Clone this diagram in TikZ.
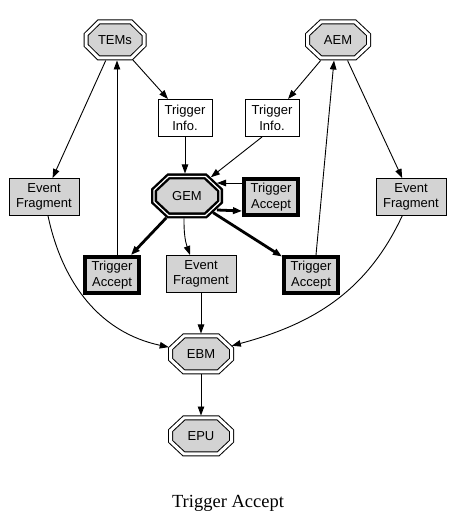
\documentclass[tikz,border=0pt]{standalone}
\usepackage{fontspec}
\setmainfont{Liberation Serif}
\newfontfamily\gvfont{Liberation Sans}
\usetikzlibrary{arrows.meta}
\definecolor{gvgray}{RGB}{211,211,211}
% octagon as drawn by graphviz: top edge 0.56 of width, side edge 0.3 of height
\makeatletter
\pgfdeclareshape{gvoctagon}{
  \inheritsavedanchors[from=rectangle]
  \inheritanchor[from=rectangle]{center}
  \inheritanchor[from=rectangle]{north}
  \inheritanchor[from=rectangle]{south}
  \inheritanchor[from=rectangle]{east}
  \inheritanchor[from=rectangle]{west}
  \anchorborder{%
    \edef\gvdx{\the\pgf@x}\edef\gvdy{\the\pgf@y}%
    \northeast \edef\gvnex{\the\pgf@x}\edef\gvney{\the\pgf@y}%
    \southwest \edef\gvswx{\the\pgf@x}\edef\gvswy{\the\pgf@y}%
    \pgfmathsetmacro\gva{((\gvnex)-(\gvswx))/2}%
    \pgfmathsetmacro\gvb{((\gvney)-(\gvswy))/2}%
    \pgfmathsetmacro\gvcx{((\gvnex)+(\gvswx))/2}%
    \pgfmathsetmacro\gvcy{((\gvney)+(\gvswy))/2}%
    \pgfmathsetmacro\gvp{0.56*\gva}%
    \pgfmathsetmacro\gvq{0.3*\gvb}%
    \pgfmathsetmacro\gvux{abs(\gvdx)+0.01}%
    \pgfmathsetmacro\gvuy{abs(\gvdy)+0.01}%
    \pgfmathsetmacro\gvt{min(\gva/\gvux,\gvb/\gvuy,((\gvb-\gvq)*\gvp+(\gva-\gvp)*\gvb)/((\gvb-\gvq)*\gvux+(\gva-\gvp)*\gvuy))}%
    \pgfpoint{\gvcx pt+\gvt*(\gvdx)}{\gvcy pt+\gvt*(\gvdy)}%
  }
  \backgroundpath{%
    \pgfmathsetlength\pgf@xc{\pgfkeysvalueof{/pgf/outer xsep}}%
    \pgfmathsetlength\pgf@yc{\pgfkeysvalueof{/pgf/outer ysep}}%
    \southwest \advance\pgf@x by \pgf@xc \advance\pgf@y by \pgf@yc
    \edef\gvxa{\the\pgf@x}\edef\gvya{\the\pgf@y}%
    \northeast \advance\pgf@x by -\pgf@xc \advance\pgf@y by -\pgf@yc
    \edef\gvxb{\the\pgf@x}\edef\gvyb{\the\pgf@y}%
    \pgfmathsetmacro\gvxl{0.5*(\gvxa)+0.5*(\gvxb)-0.28*((\gvxb)-(\gvxa))}%
    \pgfmathsetmacro\gvxr{0.5*(\gvxa)+0.5*(\gvxb)+0.28*((\gvxb)-(\gvxa))}%
    \pgfmathsetmacro\gvyl{0.5*(\gvya)+0.5*(\gvyb)-0.15*((\gvyb)-(\gvya))}%
    \pgfmathsetmacro\gvyu{0.5*(\gvya)+0.5*(\gvyb)+0.15*((\gvyb)-(\gvya))}%
    \pgfpathmoveto{\pgfpoint{\gvxl pt}{\gvyb}}%
    \pgfpathlineto{\pgfpoint{\gvxr pt}{\gvyb}}%
    \pgfpathlineto{\pgfpoint{\gvxb}{\gvyu pt}}%
    \pgfpathlineto{\pgfpoint{\gvxb}{\gvyl pt}}%
    \pgfpathlineto{\pgfpoint{\gvxr pt}{\gvya}}%
    \pgfpathlineto{\pgfpoint{\gvxl pt}{\gvya}}%
    \pgfpathlineto{\pgfpoint{\gvxa}{\gvyl pt}}%
    \pgfpathlineto{\pgfpoint{\gvxa}{\gvyu pt}}%
    \pgfpathclose
  }
}
\makeatother
\tikzset{
  gvtext/.style={font=\gvfont\fontsize{13}{15.5}\selectfont, align=center, inner sep=0pt},
  octo/.style={gvtext, gvoctagon, minimum width=61pt, minimum height=36pt,
    fill=gvgray, draw, line width=1pt, double=white, double distance=3pt,
    outer sep=2.5pt},
  boldocto/.style={octo, minimum width=66pt, minimum height=39pt,
    line width=2.4pt, double distance=1.2pt, outer sep=3pt},
  infobox/.style={gvtext, draw, line width=1pt, fill=white,
    minimum width=54pt, minimum height=37pt},
  fragbox/.style={infobox, fill=gvgray, minimum width=70pt},
  acceptbox/.style={gvtext, draw, line width=4pt, fill=gvgray,
    minimum width=54pt, minimum height=36pt},
  edge/.style={-{Triangle[length=9pt,width=6.5pt]}, line width=0.9pt},
  boldedge/.style={edge, line width=2.8pt}
}
\begin{document}
\begin{tikzpicture}[x=1pt, y=1pt]
  \useasboundingbox (0,0) rectangle (452,525);
  % sources
  \node[octo, minimum width=58pt] (tems) at (115,485) {TEMs};
  \node[octo] (aem) at (338,485) {AEM};
  \node[infobox] (tinfoL) at (185,407) {Trigger\\Info.};
  \node[infobox] (tinfoR) at (272,407) {Trigger\\Info.};
  % global event manager
  \node[boldocto] (gem) at (187,329) {GEM};
  \node[acceptbox] (taR) at (271,328) {Trigger\\Accept};
  \node[fragbox] (efL) at (44,328) {Event\\Fragment};
  \node[fragbox] (efR) at (411,328) {Event\\Fragment};
  \node[acceptbox] (taL) at (112,250) {Trigger\\Accept};
  \node[fragbox] (efM) at (201,251) {Event\\Fragment};
  \node[acceptbox] (taB) at (311,250) {Trigger\\Accept};
  % builders
  \node[octo] (ebm) at (201,171) {EBM};
  \node[octo] (epu) at (201,89) {EPU};
  \node[font=\fontsize{18.5}{22}\selectfont] (caption) at (228,22) {Trigger Accept};

  \draw[edge] (tems) -- (tinfoL);
  \draw[edge] (tems) -- (efL);
  \draw[edge] ([xshift=5pt]taL.north) -- ([xshift=2pt]tems.south);
  \draw[edge] (aem) -- (tinfoR);
  \draw[edge] (aem) -- (efR);
  \draw[edge] ([xshift=5pt]taB.north) -- ([xshift=-4pt]aem.south);
  \draw[edge] (tinfoL.south) -- (tinfoL.south |- gem.north);
  \draw[edge] ([xshift=-10pt]tinfoR.south) -- (gem);
  \draw[edge] ([yshift=14pt]taR.west) -- ([shift={(-6pt,13pt)}]gem.east);
  \draw[boldedge] ([shift={(-6pt,-14pt)}]gem.east) -- ([yshift=-14pt]taR.west);
  \draw[boldedge] (gem) -- (taL);
  \draw[boldedge] (gem) -- (taB);
  \draw[edge] ([xshift=-3pt]gem.south) to[bend right=10] ([xshift=-11pt]efM.north);
  \draw[edge] (efM) -- (ebm);
  \draw[edge] (efL) to[out=-78, in=168] (ebm);
  \draw[edge] (efR) to[out=-115, in=15] (ebm);
  \draw[edge] (ebm) -- (epu);
\end{tikzpicture}
\end{document}
